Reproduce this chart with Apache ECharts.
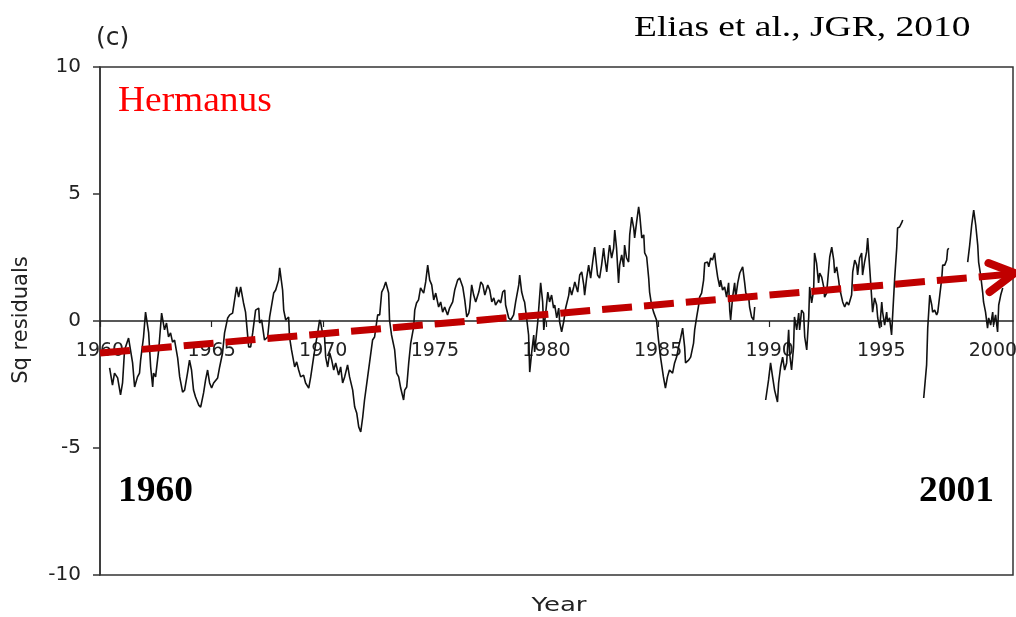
<!DOCTYPE html>
<html>
<head>
<meta charset="utf-8">
<script src="https://cdn.jsdelivr.net/npm/echarts@6/dist/echarts.min.js"></script>
<style>
html,body{margin:0;padding:0;background:#fff;}
#chart{width:1016px;height:617px;}
</style>
</head>
<body>
<div id="chart"></div>
<script>
// ---- data ----
const years = [
1960.43,1960.56,1960.65,1960.79,1960.92,1961.01,1961.10,1961.28,1961.33,1961.46,1961.55,1961.68,1961.77,1961.82,1961.95,
1962.04,1962.18,1962.27,1962.36,1962.40,1962.49,1962.63,1962.76,1962.89,1962.98,1963.07,1963.16,1963.25,1963.34,1963.48,
1963.57,1963.70,1963.79,1963.92,1964.01,1964.10,1964.19,1964.28,1964.42,1964.51,1964.64,1964.73,1964.82,1964.91,1965.00,
1965.09,1965.27,1965.36,1965.49,1965.58,1965.72,1965.81,1965.94,1966.03,1966.12,1966.21,1966.30,1966.43,1966.52,1966.66,
1966.75,1966.84,1966.97,1967.11,1967.15,1967.24,1967.37,1967.51,1967.60,1967.78,1967.87,1968.00,1968.05,1968.18,1968.23,
1968.32,1968.45,1968.49,1968.58,1968.72,1968.81,1968.90,1968.99,1969.12,1969.21,1969.35,1969.44,1969.57,1969.62,1969.75,
1969.84,1969.88,1969.97,1970.06,1970.11,1970.20,1970.29,1970.38,1970.47,1970.56,1970.69,1970.78,1970.87,1970.96,1971.09,
1971.18,1971.32,1971.41,1971.50,1971.59,1971.68,1971.77,1971.85,1971.99,1972.08,1972.21,1972.30,1972.44,1972.53,1972.62,
1972.71,1972.80,1972.93,1972.97,1973.06,1973.20,1973.29,1973.38,1973.47,1973.60,1973.65,1973.74,1973.83,1973.92,1974.05,
1974.10,1974.18,1974.27,1974.36,1974.50,1974.59,1974.68,1974.77,1974.86,1974.95,1975.04,1975.17,1975.26,1975.35,1975.44,
1975.57,1975.66,1975.80,1975.89,1976.02,1976.11,1976.25,1976.34,1976.43,1976.52,1976.56,1976.65,1976.74,1976.83,1976.97,
1977.06,1977.15,1977.24,1977.37,1977.46,1977.55,1977.64,1977.72,1977.86,1977.95,1978.04,1978.13,1978.17,1978.31,1978.40,
1978.53,1978.62,1978.76,1978.80,1978.89,1978.98,1979.02,1979.11,1979.20,1979.25,1979.34,1979.43,1979.47,1979.61,1979.74,
1979.83,1979.88,1979.97,1980.06,1980.14,1980.23,1980.32,1980.37,1980.46,1980.55,1980.59,1980.68,1980.77,1980.86,1981.00,
1981.04,1981.13,1981.22,1981.27,1981.40,1981.49,1981.58,1981.67,1981.71,1981.80,1981.89,1981.98,1982.07,1982.16,1982.21,
1982.29,1982.38,1982.47,1982.56,1982.61,1982.70,1982.79,1982.83,1982.92,1983.01,1983.06,1983.14,1983.23,1983.28,1983.37,
1983.46,1983.50,1983.59,1983.68,1983.73,1983.82,1983.91,1983.95,1984.04,1984.13,1984.18,1984.27,1984.36,1984.40,1984.49,
1984.58,1984.62,1984.71,1984.80,1984.93,1985.02,1985.11,1985.24,1985.33,1985.42,1985.51,1985.65,1985.74,1985.83,1985.92,
1986.01,1986.10,1986.19,1986.23,1986.37,1986.46,1986.59,1986.64,1986.73,1986.82,1986.86,1986.95,1987.04,1987.09,1987.22,
1987.27,1987.36,1987.44,1987.53,1987.58,1987.67,1987.76,1987.80,1987.89,1987.98,1988.07,1988.16,1988.21,1988.25,1988.34,
1988.43,1988.48,1988.57,1988.66,1988.79,1988.88,1988.93,1989.06,1989.10,1989.19,1989.28,1989.33,
1989.55,
1989.82,1989.95,1990.04,1990.13,1990.22,1990.35,1990.40,1990.49,1990.58,1990.67,1990.76,1990.85,1990.89,1990.98,1991.07,
1991.11,1991.21,1991.30,1991.34,1991.43,1991.52,1991.57,1991.66,1991.75,1991.79,1991.88,1991.97,1992.01,1992.10,1992.19,
1992.24,1992.33,1992.42,1992.46,1992.55,1992.64,1992.69,1992.78,1992.87,1992.91,1993.00,1993.09,1993.13,1993.27,1993.36,
1993.45,1993.54,1993.67,1993.72,1993.81,1993.90,1993.94,1994.03,1994.12,1994.16,1994.25,1994.34,1994.39,1994.48,1994.57,
1994.61,1994.70,1994.79,1994.84,1994.93,1995.02,1995.06,1995.15,1995.24,1995.28,1995.37,1995.46,1995.51,1995.60,1995.69,
1995.73,1995.82,1995.91,1995.96,
1996.40,
1996.90,1997.03,1997.08,1997.17,1997.26,1997.30,1997.39,1997.48,1997.53,1997.62,1997.71,1997.75,1997.84,1997.93,1997.97,
1998.02,
1998.45,
1998.87,1998.96,1999.05,1999.14,1999.23,1999.32,1999.36,1999.45,1999.54,1999.58,1999.67,1999.76,1999.81,1999.90,1999.99,
2000.03,2000.12,2000.21,2000.26,2000.35,2000.44
];
const sqValues = [
-1.85,-2.52,-2.05,-2.24,-2.91,-2.44,-1.14,-0.67,-0.63,-1.65,-2.60,-2.20,-2.05,-1.54,-0.63,
0.35,-0.47,-1.81,-2.60,-2.05,-2.20,-1.14,0.31,-0.35,-0.08,-0.63,-0.47,-0.83,-0.75,-1.46,
-2.20,-2.80,-2.72,-2.05,-1.54,-1.93,-2.72,-2.99,-3.31,-3.39,-2.83,-2.32,-1.93,-2.44,-2.64,
-2.44,-2.24,-1.81,-1.26,-0.47,0.12,0.24,0.31,0.83,1.34,0.94,1.34,0.71,0.35,-1.02,
-1.02,-0.47,0.43,0.51,-0.08,0.04,-0.75,-0.63,0.16,1.10,1.22,1.61,2.09,1.22,0.43,
0.04,0.16,-0.63,-1.14,-1.81,-1.61,-1.93,-2.20,-2.13,-2.44,-2.64,-2.20,-1.42,-1.14,-0.47,
0.04,-0.04,-0.47,-0.63,-1.42,-1.81,-1.26,-1.54,-1.93,-1.65,-2.13,-1.81,-2.44,-2.20,-1.73,
-2.20,-2.72,-3.39,-3.62,-4.17,-4.37,-3.78,-3.11,-2.20,-1.61,-0.75,-0.63,0.24,0.24,1.14,
1.30,1.54,1.10,0.04,-0.55,-1.14,-2.05,-2.20,-2.64,-3.11,-2.72,-2.60,-1.65,-0.87,-0.24,
0.43,0.71,0.83,1.30,1.10,1.54,2.20,1.61,1.42,0.83,1.10,0.55,0.75,0.35,0.55,
0.24,0.51,0.75,1.22,1.61,1.69,1.34,0.83,0.16,0.31,0.51,1.42,1.02,0.75,1.14,
1.54,1.42,1.02,1.42,1.22,0.75,0.91,0.63,0.83,0.71,1.14,1.22,0.63,0.12,0.04,
0.24,0.75,1.42,1.81,1.14,0.83,0.75,0.12,-0.55,-2.01,-1.22,-0.55,-1.22,-0.04,1.50,
0.75,-0.35,0.35,1.14,0.75,1.02,0.51,0.63,0.12,0.51,-0.04,-0.43,-0.04,0.51,1.02,
1.34,1.02,1.34,1.54,1.14,1.81,1.93,1.42,1.02,1.69,2.20,1.69,2.32,2.91,2.48,
1.81,1.69,2.20,2.87,2.48,1.93,2.72,2.99,2.48,2.87,3.58,2.87,1.50,2.20,2.60,
2.13,2.99,2.48,2.32,3.39,4.09,3.66,3.27,3.90,4.49,4.17,3.27,3.39,2.68,2.52,
1.69,1.14,0.63,0.35,0.04,-0.75,-1.42,-2.20,-2.64,-2.20,-1.93,-2.05,-1.65,-1.42,-1.02,
-0.67,-0.28,-1.02,-1.65,-1.54,-1.42,-0.87,-0.35,0.16,0.63,0.94,1.10,1.61,2.28,2.32,
2.13,2.48,2.40,2.68,2.28,1.73,1.34,1.61,1.22,1.34,0.94,1.50,0.43,0.04,0.94,
1.50,0.94,1.50,1.89,2.13,1.50,1.10,0.94,0.55,0.16,0.04,0.55,
null,
-3.11,-2.32,-1.65,-2.20,-2.72,-3.19,-2.44,-1.81,-1.42,-1.93,-1.65,-0.35,-1.26,-1.93,-1.02,
0.16,-0.35,0.31,-0.35,0.43,0.31,-0.63,-1.14,0.16,1.34,0.71,1.22,2.68,2.28,1.50,
1.89,1.73,1.34,0.94,1.10,2.01,2.52,2.91,2.40,1.89,2.13,1.61,1.30,0.75,0.55,
0.75,0.63,1.02,1.93,2.40,2.20,1.81,2.48,2.68,1.81,2.32,2.72,3.27,2.09,0.91,
0.35,0.91,0.63,0.12,-0.28,0.75,0.35,-0.16,0.35,-0.04,0.12,-0.55,0.24,1.69,2.87,
3.66,3.70,3.86,3.98,
null,
-3.03,-1.73,-0.28,1.02,0.63,0.35,0.43,0.24,0.35,1.02,1.69,2.20,2.20,2.40,2.80,
2.87,
null,
2.32,2.99,3.78,4.37,3.78,2.99,2.32,1.81,1.14,0.75,0.35,-0.28,0.12,-0.16,0.35,
-0.16,0.24,-0.43,0.63,1.02,1.30
];
// red trend arrow (shaft end points and open arrow head)
const trendYears = [1960, 2000.75];
const trendValues = [-1.26, 1.84];
const headYears = [1999.8, 2000.98, 1999.85];
const headValues = [2.28, 1.89, 1.14];
// axis
const yTicks = [-10, -5, 0, 5, 10];
const xTickYears = [1960, 1965, 1970, 1975, 1980, 1985, 1990, 1995, 2000];

const sqData = years.map((y, i) => [y, sqValues[i] === null ? '-' : sqValues[i]]);
const trendData = trendYears.map((y, i) => [y, trendValues[i]]);
const headData = headYears.map((y, i) => [y, headValues[i]]);

const GRID_TOP = 67, GRID_BOTTOM = 42, H = 617;
const plotH = H - GRID_TOP - GRID_BOTTOM;
// shift the x axis (line, ticks, labels) up to the zero line of the value axis
const zeroOffset = -plotH * (0 - (-10)) / (10 - (-10));

const chart = echarts.init(document.getElementById('chart'), null, {renderer: 'canvas'});
const tickFont = 'DejaVu Sans';
chart.setOption({
  animation: false,
  backgroundColor: '#ffffff',
  grid: {left: 100, right: 3, top: GRID_TOP, bottom: GRID_BOTTOM, containLabel: false,
    outerBoundsMode: 'none',
    show: true, borderColor: '#333', borderWidth: 1.5},
  xAxis: {
    type: 'value', min: 1960, max: 2000.9, interval: 5,
    position: 'bottom', offset: zeroOffset,
    axisLine: {onZero: false, lineStyle: {color: '#222', width: 1.5}},
    axisTick: {show: true, length: 6, lineStyle: {color: '#222', width: 1.2},
      customValues: xTickYears},
    axisLabel: {color: '#222', fontFamily: tickFont, fontSize: 19, margin: 21,
      customValues: xTickYears,
      formatter: v => (Math.abs(v % 5) < 1e-6 ? String(Math.round(v)) : '')},
    splitLine: {show: false}
  },
  yAxis: {
    type: 'value', min: -10, max: 10, interval: 5,
    axisLine: {show: true, lineStyle: {color: '#333', width: 1.5}},
    axisTick: {show: true, length: 7, lineStyle: {color: '#333', width: 1.5}},
    axisLabel: {color: '#222', fontFamily: tickFont, fontSize: 20, margin: 19,
      formatter: v => String(v)},
    splitLine: {show: false}
  },
  series: [
    {type: 'line', data: sqData, showSymbol: false, connectNulls: false,
      lineStyle: {color: '#111', width: 1.6}, z: 3},
    {type: 'line', data: trendData, showSymbol: false,
      lineStyle: {color: '#c00000', width: 7, type: [30, 12], cap: 'butt'}, z: 5},
    {type: 'line', data: headData, showSymbol: false, clip: false,
      lineStyle: {color: '#c00000', width: 8, cap: 'round', join: 'round'}, z: 6}
  ],
  graphic: [
    {type: 'text', x: 96, y: 26, style: {text: '(c)', font: '25px "DejaVu Sans"', fill: '#222'}},
    {type: 'text', x: 634, y: 28, scaleX: 1.25, style: {text: 'Elias et al., JGR, 2010', font: '30px "Liberation Serif"', fill: '#000', verticalAlign: 'middle'}},
    {type: 'text', x: 118, y: 102, scaleX: 1.04, style: {text: 'Hermanus', font: '36px "Liberation Serif"', fill: '#ff0000', verticalAlign: 'middle'}},
    {type: 'text', x: 118, y: 492, scaleX: 1.04, style: {text: '1960', font: 'bold 36px "Liberation Serif"', fill: '#000', verticalAlign: 'middle'}},
    {type: 'text', x: 994, y: 492, scaleX: 1.04, style: {text: '2001', font: 'bold 36px "Liberation Serif"', fill: '#000', align: 'right', verticalAlign: 'middle'}},
    {type: 'text', x: 559, y: 606, scaleX: 1.3, style: {text: 'Year', font: '20px "DejaVu Sans"', fill: '#222', align: 'center', verticalAlign: 'middle'}},
    {type: 'text', x: 22, y: 320, rotation: Math.PI / 2, style: {text: 'Sq residuals', font: '21px "DejaVu Sans"', fill: '#222', align: 'center', verticalAlign: 'middle'}}
  ]
});
</script>
</body>
</html>
